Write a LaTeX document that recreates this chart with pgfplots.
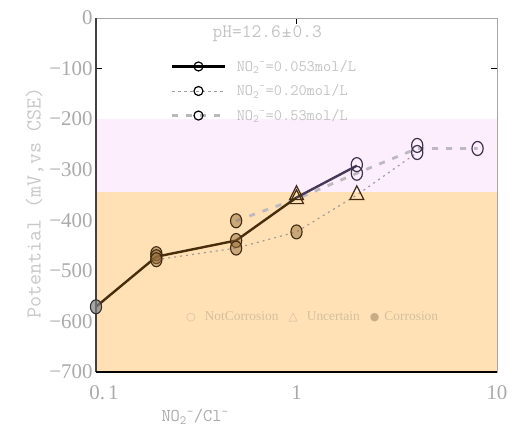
\documentclass[border=0pt]{standalone}
\usepackage{fontspec}
\setmainfont{Liberation Serif}
\newfontfamily\symfont{DejaVu Sans}
\usepackage{pgfplots}
\pgfplotsset{compat=1.18}
\usetikzlibrary{calc}

\definecolor{pinkbg}{RGB}{252,238,252}
\definecolor{orangebg}{RGB}{255,225,181}
\definecolor{ticktxt}{RGB}{170,170,170}
\definecolor{labtxt}{RGB}{200,200,200}
\definecolor{legtxt}{RGB}{195,195,195}
\definecolor{corrfill}{RGB}{150,110,60}
\definecolor{corredge}{RGB}{65,42,15}
\definecolor{okedge}{RGB}{60,50,75}
\definecolor{dotgray}{RGB}{165,155,150}
\definecolor{dashgray}{RGB}{190,185,192}
\definecolor{keytxt}{RGB}{212,192,160}
\definecolor{keydot}{RGB}{200,172,130}
\definecolor{linebrown}{RGB}{72,45,12}
\definecolor{linepurple}{RGB}{70,58,88}

\begin{document}
\begin{tikzpicture}
\begin{axis}[name=ax, scale only axis, width=401bp, height=354bp,
    xmode=log, xmin=0.1, xmax=10, ymin=-700, ymax=0,
    xtick={0.1,1,10}, xticklabels={\hspace{16bp}0.\kern3pt1,1,10}, xminorticks=false,
    ytick={-700,-600,-500,-400,-300,-200,-100,0},
    yticklabels={−700,−600,−500,−400,−300,−200,−100,0},
    tick align=inside, major tick length=6bp,
    tick style={black, line width=0.8bp},
    axis line style={draw=gray!70, line width=0.8bp},
    ticklabel style={font=\fontsize{21}{22}\selectfont, text=ticktxt},
    xticklabel style={yshift=-10bp},
    xlabel={NO\textsubscript{2}\textsuperscript{-}/Cl\textsuperscript{-}},
    xlabel style={at={(axis description cs:0.247,-0.127)}, anchor=center,
        font=\ttfamily\fontsize{18}{19}\selectfont, text=ticktxt},
    ylabel={Potential (mV,vs CSE)},
    ylabel style={at={(axis description cs:-0.153,0.477)}, anchor=center,
        font=\ttfamily\fontsize{21.5}{22}\selectfont, text=labtxt},
    clip=false,
    legend image code/.code={
        \draw[mark repeat=2, mark phase=2, #1]
            plot coordinates {(0bp,0bp) (26bp,0bp) (53bp,0bp)};},
    legend style={at={(axis description cs:0.187,0.887)}, anchor=north west,
        draw=none, fill=none, inner sep=0pt, row sep=8bp,
        font=\ttfamily\fontsize{16}{17}\selectfont, text=legtxt},
    legend cell align=left,
]
% background bands
\addplot[draw=none, fill=orangebg, forget plot]
    coordinates {(0.1,-700) (10,-700) (10,-345) (0.1,-345)};
\addplot[draw=none, fill=pinkbg, forget plot]
    coordinates {(0.1,-345) (10,-345) (10,-200) (0.1,-200)};

% legend keys
\addlegendimage{black, line width=2.4bp, mark=o, mark size=4.5bp,
    mark options={solid, line width=1.2bp, fill=white}}
\addlegendentry{\hspace{8bp}NO\textsubscript{2}\textsuperscript{-}=0.053mol/L}
\addlegendimage{gray!75, line width=0.9bp, dash pattern=on 2.5bp off 3.5bp,
    mark=o, mark size=4.5bp,
    mark options={solid, black, line width=1.2bp, fill=white}}
\addlegendentry{\hspace{8bp}NO\textsubscript{2}\textsuperscript{-}=0.20mol/L}
\addlegendimage{gray!55, line width=2.6bp, dash pattern=on 6bp off 8bp,
    mark=o, mark size=4.5bp,
    mark options={solid, black, line width=1.2bp, fill=white}}
\addlegendentry{\hspace{8bp}NO\textsubscript{2}\textsuperscript{-}=0.53mol/L}

% lines
\addplot[dashgray, line width=2.8bp, dash pattern=on 6bp off 8bp, forget plot]
    coordinates {(0.5,-401) (1,-358) (2,-307) (4,-258) (8,-258)};
\addplot[dotgray, line width=1.2bp, dash pattern=on 2bp off 4bp, forget plot]
    coordinates {(0.2,-478) (0.5,-455) (1,-423) (2,-350) (4,-266)};
\addplot[linebrown, line width=2.4bp, forget plot]
    coordinates {(0.1,-571) (0.2,-472) (0.5,-440) (1,-355)};
\addplot[linepurple, line width=2.4bp, forget plot]
    coordinates {(1,-355) (2,-292)};

% corrosion
\addplot[only marks, mark=*, mark size=7bp, forget plot,
    mark options={xscale=0.8, draw=corredge, line width=1.1bp,
        fill=corrfill, fill opacity=0.5}]
    coordinates {(0.2,-466) (0.2,-472) (0.2,-478) (0.5,-401) (0.5,-440)
        (0.5,-455) (1,-423)};
\addplot[only marks, mark=*, mark size=7bp, forget plot,
    mark options={xscale=0.8, draw=black!80, line width=1.1bp,
        fill=gray, fill opacity=0.7}]
    coordinates {(0.1,-571)};
% uncertain
\addplot[only marks, mark=triangle, mark size=8bp, forget plot,
    mark options={yscale=1.15, draw=corredge, line width=1.2bp}]
    coordinates {(1,-350) (1,-358) (2,-350)};
% not corrosion
\addplot[only marks, mark=o, mark size=7bp, forget plot,
    mark options={xscale=0.8, draw=okedge, line width=1.2bp}]
    coordinates {(2,-290) (2,-307) (4,-252) (4,-266) (8,-258)};

% spines
\draw[black!75, line width=1.6bp] (rel axis cs:0,1) -- (rel axis cs:0,0);
\draw[black, line width=1.6bp] (rel axis cs:0,0) -- (rel axis cs:1,0);

\node[text=legtxt, font=\ttfamily\fontsize{19}{20}\selectfont]
    at (axis description cs:0.427,0.955) {pH=12.6\kern1pt±\kern1pt0.3};
\node[text=keytxt, font=\fontsize{13.5}{14}\selectfont]
    at (axis description cs:0.539,0.155)
    {{\symfont\fontsize{11}{12}\selectfont ○}\hspace{9bp}NotCorrosion\hspace{10bp}{\symfont\fontsize{12}{12}\selectfont △}\hspace{9bp}Uncertain\hspace{10bp}{\color{keydot}\symfont\fontsize{11}{12}\selectfont ●}\hspace{5bp}Corrosion};
\end{axis}
\pgfresetboundingbox
\path ($(ax.south west)+(-96bp,-54bp)$) rectangle ($(ax.north east)+(15bp,18bp)$);
\end{tikzpicture}
\end{document}
